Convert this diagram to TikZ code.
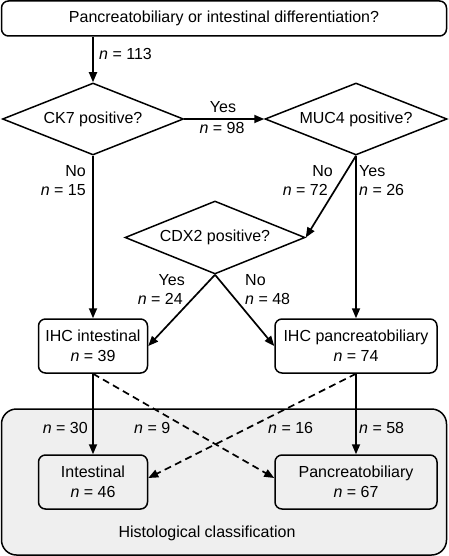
\documentclass[tikz,border=0pt]{standalone}
\usepackage{fontspec}
\setmainfont{Liberation Sans}
\usetikzlibrary{shapes.geometric,arrows.meta,calc}
\definecolor{panelgray}{RGB}{239,239,239}
\begin{document}
\begin{tikzpicture}[x=1pt,y=-1pt,
  every node/.style={font=\fontsize{16}{20}\selectfont},
  box/.style={draw, line width=1.5pt, rounded corners=7pt, align=center, inner sep=0pt},
  dia/.style={draw, diamond, line width=1.5pt, inner sep=0pt, aspect=2.5},
  lbl/.style={inner sep=0pt, text height=11.5pt, text depth=3.2pt},
  arr/.style={line width=1.7pt, -{Triangle[length=10pt,width=8pt]}},
  darr/.style={arr, dash pattern=on 7pt off 4.5pt}]
\useasboundingbox (0,0) rectangle (448,556);
% background panel
\node[box, rounded corners=15pt, fill=panelgray, minimum width=445pt, minimum height=146pt] (panel) at (224,482) {};
\node[inner sep=0pt] (hist) at (207,533) {Histological classification};
% nodes
\node[box, minimum width=445pt, minimum height=35pt] (top) at (224,18.5) {Pancreatobiliary or intestinal differentiation?};
\node[dia, minimum width=181pt, minimum height=72pt] (ck7) at (93,119) {CK7 positive?};
\node[dia, minimum width=182pt, minimum height=72pt] (muc4) at (356,119) {MUC4 positive?};
\node[dia, minimum width=180pt, minimum height=73pt] (cdx2) at (215,237.5) {CDX2 positive?};
\node[box, minimum width=109pt, minimum height=54pt] (ihci) at (93,346) {IHC intestinal\\\textit{n} = 39};
\node[box, minimum width=162pt, minimum height=54pt] (ihcp) at (356,346) {IHC pancreatobiliary\\\textit{n} = 74};
\node[box, minimum width=109pt, minimum height=54pt] (inte) at (93,482) {Intestinal\\\textit{n} = 46};
\node[box, minimum width=162pt, minimum height=54pt] (panc) at (356,482) {Pancreatobiliary\\\textit{n} = 67};
% connectors
\draw[arr] (ck7.north |- top.south) -- (ck7.north);
\draw[arr] (ck7.east) -- (muc4.west);
\draw[arr] (ck7.south) -- (ihci.north);
\draw[arr] (muc4.south) -- (ihcp.north);
\draw[arr] (muc4.south) -- (cdx2.east);
\draw[arr] (cdx2.south) -- (ihci.east);
\draw[arr] (cdx2.south) -- (ihcp.west);
\draw[arr] (ihci.south) -- (inte.north);
\draw[arr] (ihcp.south) -- (panc.north);
\draw[darr] (ihci.south) -- ($(panc.west)+(0,-4)$);
\draw[darr] (ihcp.south) -- ($(inte.east)+(0,-4)$);
% labels
\node[lbl, anchor=west] (l113) at (99,55) {\textit{n} = 113};
\node[lbl] (lyes1) at (223,108) {Yes};
\node[lbl] (l98) at (222,129) {\textit{n} = 98};
\node[lbl, anchor=east] (lno1) at (86,172) {No};
\node[lbl, anchor=east] (l15) at (86,191) {\textit{n} = 15};
\node[lbl, anchor=east] (lno2) at (333,172) {No};
\node[lbl, anchor=east] (l72) at (328,191) {\textit{n} = 72};
\node[lbl, anchor=west] (lyes2) at (359,172) {Yes};
\node[lbl, anchor=west] (l26) at (359,191) {\textit{n} = 26};
\node[lbl, anchor=east] (lyes3) at (185,281) {Yes};
\node[lbl, anchor=east] (l24) at (183,300) {\textit{n} = 24};
\node[lbl, anchor=west] (lno3) at (245,281) {No};
\node[lbl, anchor=west] (l48) at (245,300) {\textit{n} = 48};
\node[lbl, anchor=east] (l30) at (88,429) {\textit{n} = 30};
\node[lbl, anchor=west] (l9) at (134,429) {\textit{n} = 9};
\node[lbl, anchor=west] (l16) at (268,429) {\textit{n} = 16};
\node[lbl, anchor=west] (l58) at (359,429) {\textit{n} = 58};
\end{tikzpicture}
\end{document}
